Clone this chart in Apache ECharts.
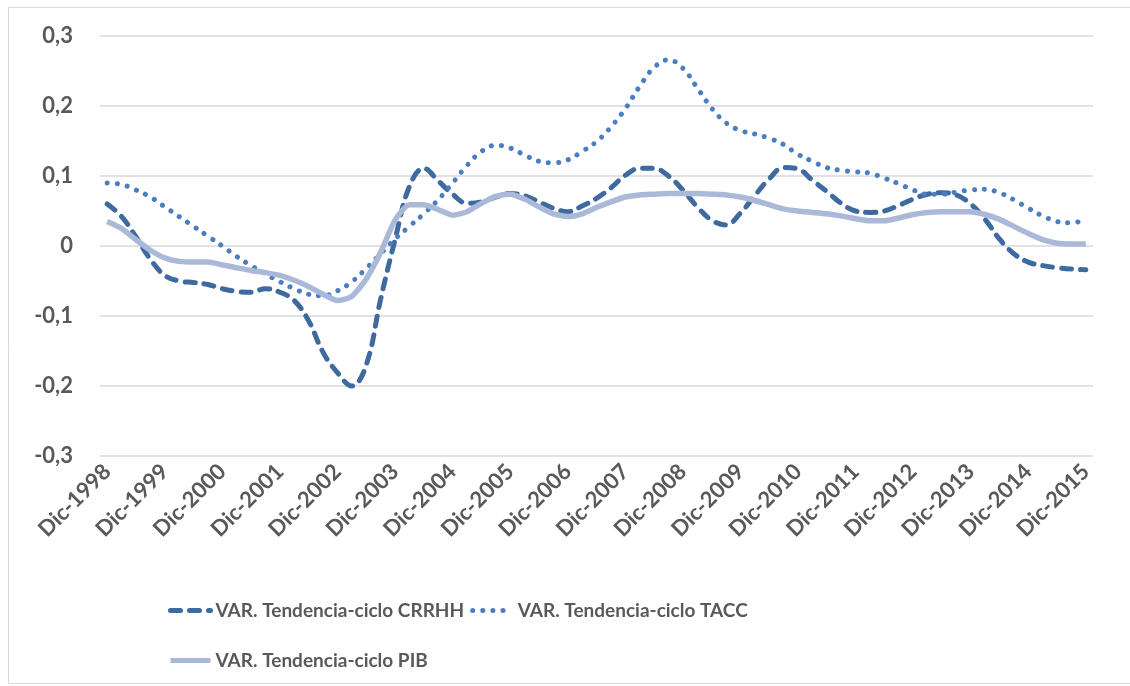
<!DOCTYPE html>
<html>
<head>
<meta charset="utf-8">
<script src="https://cdn.jsdelivr.net/npm/echarts@6/dist/echarts.min.js"></script>
<style>
  html, body { margin: 0; padding: 0; background: #fff; }
  #chart { width: 1130px; height: 686px; }
</style>
</head>
<body>
<div id="chart"></div>
<script>
const myChart = echarts.init(document.getElementById("chart"));

// quarterly categories, Dic-1998 .. Dic-2015
const months = ["Mar", "Jun", "Sep", "Dic"];
const categories = ["Dic-1998"];
for (let y = 1999; y <= 2015; y++) {
  months.forEach((m) => categories.push(m + "-" + y));
}

const crrhh = [
  0.060, 0.042, 0.013, -0.019, -0.042, -0.050, -0.052, -0.055, -0.061, -0.065,
  -0.066, -0.061, -0.066, -0.078, -0.107, -0.152, -0.181, -0.200, -0.170, -0.076,
  0.009, 0.085, 0.111, 0.093, 0.074, 0.061, 0.063, 0.070, 0.075, 0.072,
  0.063, 0.054, 0.049, 0.057, 0.068, 0.083, 0.101, 0.111, 0.111, 0.100,
  0.080, 0.056, 0.037, 0.030, 0.047, 0.072, 0.096, 0.112, 0.110, 0.094,
  0.078, 0.061, 0.050, 0.048, 0.050, 0.058, 0.067, 0.074, 0.076, 0.073,
  0.060, 0.038, 0.010, -0.011, -0.023, -0.028, -0.031, -0.033, -0.034,
];
const tacc = [
  0.090, 0.088, 0.080, 0.070, 0.056, 0.042, 0.028, 0.014, 0.000, -0.015,
  -0.028, -0.040, -0.051, -0.061, -0.069, -0.071, -0.064, -0.051, -0.032, -0.011,
  0.010, 0.028, 0.046, 0.066, 0.090, 0.115, 0.135, 0.144, 0.140, 0.130,
  0.121, 0.119, 0.123, 0.135, 0.149, 0.170, 0.196, 0.228, 0.255, 0.266,
  0.254, 0.226, 0.197, 0.176, 0.165, 0.160, 0.154, 0.145, 0.131, 0.121,
  0.112, 0.108, 0.106, 0.104, 0.097, 0.089, 0.080, 0.074, 0.074, 0.077,
  0.080, 0.081, 0.076, 0.066, 0.054, 0.043, 0.035, 0.033, 0.038,
];
const pib = [
  0.035, 0.025, 0.009, -0.006, -0.017, -0.022, -0.023, -0.023, -0.027, -0.031,
  -0.035, -0.038, -0.042, -0.049, -0.058, -0.069, -0.078, -0.072, -0.047, -0.009,
  0.037, 0.059, 0.059, 0.052, 0.044, 0.049, 0.061, 0.071, 0.074, 0.067,
  0.056, 0.046, 0.042, 0.046, 0.055, 0.063, 0.070, 0.073, 0.074, 0.075,
  0.075, 0.075, 0.074, 0.073, 0.070, 0.065, 0.059, 0.053, 0.050, 0.048,
  0.046, 0.043, 0.039, 0.036, 0.036, 0.040, 0.045, 0.048, 0.049, 0.049,
  0.049, 0.045, 0.038, 0.028, 0.018, 0.009, 0.004, 0.003, 0.003,
];

const names = [
  "VAR. Tendencia-ciclo CRRHH",
  "VAR. Tendencia-ciclo TACC",
  "VAR. Tendencia-ciclo PIB",
];

const font = "Lato";
const textColor = "#595959";
const legendText = { fontFamily: font, fontWeight: "bold", fontSize: 19, color: textColor };

var option = {
  animation: false,
  graphic: [
    {
      type: "rect",
      shape: { x: 8.5, y: 7.5, width: 1130, height: 676 },
      style: { fill: "none", stroke: "#d9d9d9", lineWidth: 1 },
    },
  ],
  grid: { left: 100, right: 37, top: 36, bottom: 230 },
  legend: [
    {
      data: [names[0], names[1]],
      left: 163,
      top: 596,
      itemWidth: 40,
      itemHeight: 8,
      itemGap: 6,
      itemStyle: { opacity: 0 },
      lineStyle: { width: 5 },
      textStyle: legendText,
    },
    {
      data: [names[2]],
      left: 163,
      top: 646,
      itemWidth: 40,
      itemHeight: 8,
      itemStyle: { opacity: 0 },
      lineStyle: { width: 5 },
      textStyle: legendText,
    },
  ],
  xAxis: {
    type: "category",
    data: categories,
    boundaryGap: true,
    axisLine: { show: false, onZero: false },
    axisTick: { show: false },
    axisLabel: {
      interval: 3,
      rotate: 45,
      margin: 12,
      fontFamily: font,
      fontWeight: "bold",
      fontSize: 22,
      color: textColor,
    },
  },
  yAxis: {
    type: "value",
    min: -0.3,
    max: 0.3,
    interval: 0.1,
    axisLine: { show: false },
    axisTick: { show: false },
    splitLine: { lineStyle: { color: "#d9d9d9", width: 1.5 } },
    axisLabel: {
      margin: 27,
      fontFamily: font,
      fontWeight: "bold",
      fontSize: 22,
      color: textColor,
      formatter: (v) => {
        const r = Math.round(v * 10) / 10;
        return r === 0 ? "0" : r.toFixed(1).replace(".", ",");
      },
    },
  },
  series: [
    {
      name: names[0],
      type: "line",
      data: crrhh,
      symbol: "none",
      smooth: 0.4,
      lineStyle: { color: "#3e6aa0", width: 5, type: [10, 9], cap: "round" },
      itemStyle: { color: "#3e6aa0" },
    },
    {
      name: names[1],
      type: "line",
      data: tacc,
      symbol: "none",
      smooth: 0.4,
      lineStyle: { color: "#4a7ec1", width: 5, type: [0.1, 10], cap: "round" },
      itemStyle: { color: "#4a7ec1" },
    },
    {
      name: names[2],
      type: "line",
      data: pib,
      symbol: "none",
      smooth: 0.2,
      lineStyle: { color: "#aab9d7", width: 5.5 },
      itemStyle: { color: "#aab9d7" },
    },
  ],
};

myChart.setOption(option);
</script>
</body>
</html>
